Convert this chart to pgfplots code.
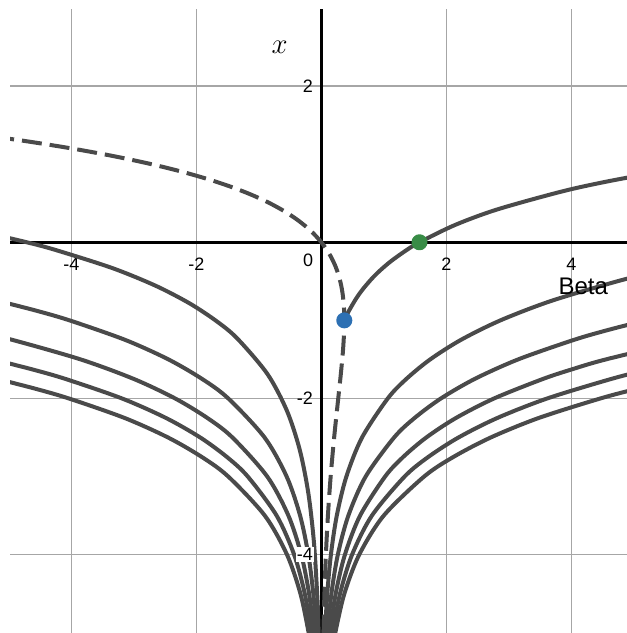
\documentclass[border=0pt]{standalone}
\usepackage{pgfplots}
\pgfplotsset{compat=1.18}
\usepackage{fontspec}
\setmainfont{Liberation Sans}

\definecolor{curve}{HTML}{4A4A4A}
\definecolor{dblue}{HTML}{2D70B3}
\definecolor{dgreen}{HTML}{388C46}
\definecolor{gridc}{HTML}{A6A6A6}

\begin{document}
\begin{tikzpicture}[x=1pt,y=1pt]
\path[use as bounding box] (-5,0) rectangle (308.5,316.5);
\begin{axis}[
    at={(0,0)}, anchor=south west,
    scale only axis, width=308.5pt, height=312pt,
    xmin=-4.981, xmax=4.891, ymin=-5.003, ymax=2.987,
    axis lines=middle,
    axis line style={-, black, line width=1.4pt},
    every inner x axis line/.append style={-},
    every inner y axis line/.append style={-},
    xtick={-4,-2,2,4}, ytick={-4,-2,2},
    xticklabels={-4,-2,2,4}, yticklabels={,-2,2},
    major tick length=0pt,
    grid=major,
    major grid style={gridc, line width=0.75pt},
    tick label style={font=\fontsize{9}{10}\selectfont},
    xticklabel style={anchor=center, yshift=-11pt},
    yticklabel style={anchor=east, inner sep=0pt, xshift=-4pt},
    every axis plot/.append style={curve, line width=2pt, line join=round},
]

% dashed: real branches W0 and W-1
\addplot[smooth, dash pattern=on 10pt off 4pt] coordinates {
    (-5.6773,1.4) (-4.7701,1.3) (-3.9841,1.2) (-3.3046,1.1) (-2.7183,1.0)
    (-2.2136,0.9) (-1.7804,0.8) (-1.4096,0.7) (-1.0933,0.6) (-0.8244,0.5)
    (-0.5967,0.4) (-0.4050,0.3) (-0.2443,0.2) (-0.1105,0.1) (0,0)
    (0.0905,-0.1) (0.1638,-0.2) (0.2223,-0.3) (0.2681,-0.4) (0.3033,-0.5)
    (0.3293,-0.6) (0.3476,-0.7) (0.3595,-0.8) (0.3659,-0.9) (0.3679,-1.0)
    (0.3662,-1.1) (0.3614,-1.2) (0.3500,-1.35) (0.3347,-1.5) (0.3041,-1.75)
    (0.2707,-2) (0.2052,-2.5) (0.1494,-3) (0.1057,-3.5) (0.0733,-4)
    (0.0500,-4.5) (0.0337,-5) (0.0287,-5.2)
};

% principal branch, complex part
\addplot[smooth] coordinates {
    (0.3679,-1) (0.3850,-0.9698) (0.4421,-0.8770) (0.5625,-0.7142)
    (0.6628,-0.6023) (0.8075,-0.4665) (0.9404,-0.3609) (1.1159,-0.2415)
    (1.3520,-0.1064) (1.5708,0) (2.1380,0.2209) (2.8129,0.4199)
    (3.8426,0.6491) (4.5658,0.7771) (5.4934,0.9153)
};

% left branches
\addplot[smooth] coordinates {
    (-0.0280,-5.469) (-0.0427,-4.9875) (-0.0624,-4.5609) (-0.1195,-3.8281)
    (-0.2088,-3.2072) (-0.3445,-2.6593) (-0.5495,-2.1588) (-0.8613,-1.6879)
    (-1.3432,-1.2331) (-1.6797,-1.0082) (-2.1056,-0.7833) (-2.6491,-0.5573)
    (-3.3481,-0.3292) (-4.2563,-0.0976) (-4.7124,0) (-5.4483,0.1385)
};
\addplot[smooth] coordinates {
    (-0.0648,-5.2) (-0.0787,-5) (-0.1279,-4.5) (-0.2081,-4) (-0.3394,-3.5)
    (-0.5544,-3) (-0.9074,-2.5) (-1.4882,-2) (-1.9073,-1.75) (-2.4458,-1.5)
    (-3.1380,-1.25) (-4.0282,-1) (-4.5649,-0.875) (-5.1737,-0.75)
};
\addplot[smooth] coordinates {
    (-0.0980,-5.2) (-0.1194,-5) (-0.1956,-4.5) (-0.3207,-4) (-0.5264,-3.5)
    (-0.8646,-3) (-1.4213,-2.5) (-1.8229,-2.25) (-2.3384,-2) (-3.0004,-1.75)
    (-3.8506,-1.5) (-4.9426,-1.25) (-5.6003,-1.125) (-6.3458,-1)
};
\addplot[smooth] coordinates {
    (-0.1319,-5.2) (-0.1609,-5) (-0.2644,-4.5) (-0.4347,-4) (-0.7149,-3.5)
    (-1.1763,-3) (-1.5091,-2.75) (-1.9363,-2.5) (-2.4847,-2.25) (-3.1888,-2)
    (-4.0929,-1.75) (-4.6371,-1.625) (-5.2539,-1.5)
};
\addplot[smooth] coordinates {
    (-0.1662,-5.2) (-0.2028,-5) (-0.3337,-4.5) (-0.5491,-4) (-0.9039,-3.5)
    (-1.4884,-3) (-1.9102,-2.75) (-2.4516,-2.5) (-3.1466,-2.25) (-4.0391,-2)
    (-4.5763,-1.875) (-5.1850,-1.75)
};

% right branches
\addplot[smooth] coordinates {
    (0.0491,-5.2) (0.0593,-5) (0.0953,-4.5) (0.1534,-4) (0.2475,-3.5)
    (0.4009,-3) (0.6515,-2.5) (1.0631,-2) (1.3601,-1.75) (1.7418,-1.5)
    (2.2330,-1.25) (2.8657,-1) (3.6815,-0.75) (4.7346,-0.5) (5.3712,-0.375)
    (6.0949,-0.25)
};
\addplot[smooth] coordinates {
    (0.0812,-5.2) (0.0988,-5) (0.1615,-4.5) (0.2642,-4) (0.4326,-3.5)
    (0.7092,-3) (1.1641,-2.5) (1.4922,-2.25) (1.9133,-2) (2.4540,-1.75)
    (3.1485,-1.5) (4.0408,-1.25) (4.5783,-1.125) (5.1877,-1)
};
\addplot[smooth] coordinates {
    (0.1149,-5.2) (0.1401,-5) (0.2299,-4.5) (0.3776,-4) (0.6205,-3.5)
    (1.0203,-3) (1.3087,-2.75) (1.6787,-2.5) (2.1538,-2.25) (2.7636,-2)
    (3.5467,-1.75) (4.0181,-1.625) (4.5523,-1.5) (5.8439,-1.25)
};
\addplot[smooth] coordinates {
    (0.1490,-5.2) (0.1818,-5) (0.2990,-4.5) (0.4919,-4) (0.8093,-3.5)
    (1.3323,-3) (1.7096,-2.75) (2.1939,-2.5) (2.8156,-2.25) (3.6139,-2)
    (4.6390,-1.75) (5.2560,-1.625) (5.9552,-1.5)
};
\addplot[smooth] coordinates {
    (0.1834,-5.2) (0.2238,-5) (0.3684,-4.5) (0.6064,-4) (0.9985,-3.5)
    (1.6446,-3) (2.1108,-2.75) (2.7093,-2.5) (3.4777,-2.25) (4.4643,-2)
    (5.0581,-1.875) (5.7311,-1.75)
};

% marked points
\addplot[only marks, mark=*, mark size=3pt, color=dblue] coordinates {(0.3679,-1)};
\addplot[only marks, mark=*, mark size=3pt, color=dgreen] coordinates {(1.5708,0)};

% the -4 label sits over the curves, on a white patch
\node[anchor=east, fill=white, inner sep=0.6pt, xshift=-3.4pt,
      font=\fontsize{9}{10}\selectfont] at (axis cs:0,-4) {-4};
\node[font=\fontsize{9}{10}\selectfont] at (axis cs:-0.21,-0.23) {0};
\node[font=\fontsize{12}{14}\selectfont] at (axis cs:4.19,-0.56) {Beta};
\node[font=\fontsize{14}{16}\selectfont] at (axis cs:-0.665,2.50) {$x$};
\end{axis}
\end{tikzpicture}
\end{document}
